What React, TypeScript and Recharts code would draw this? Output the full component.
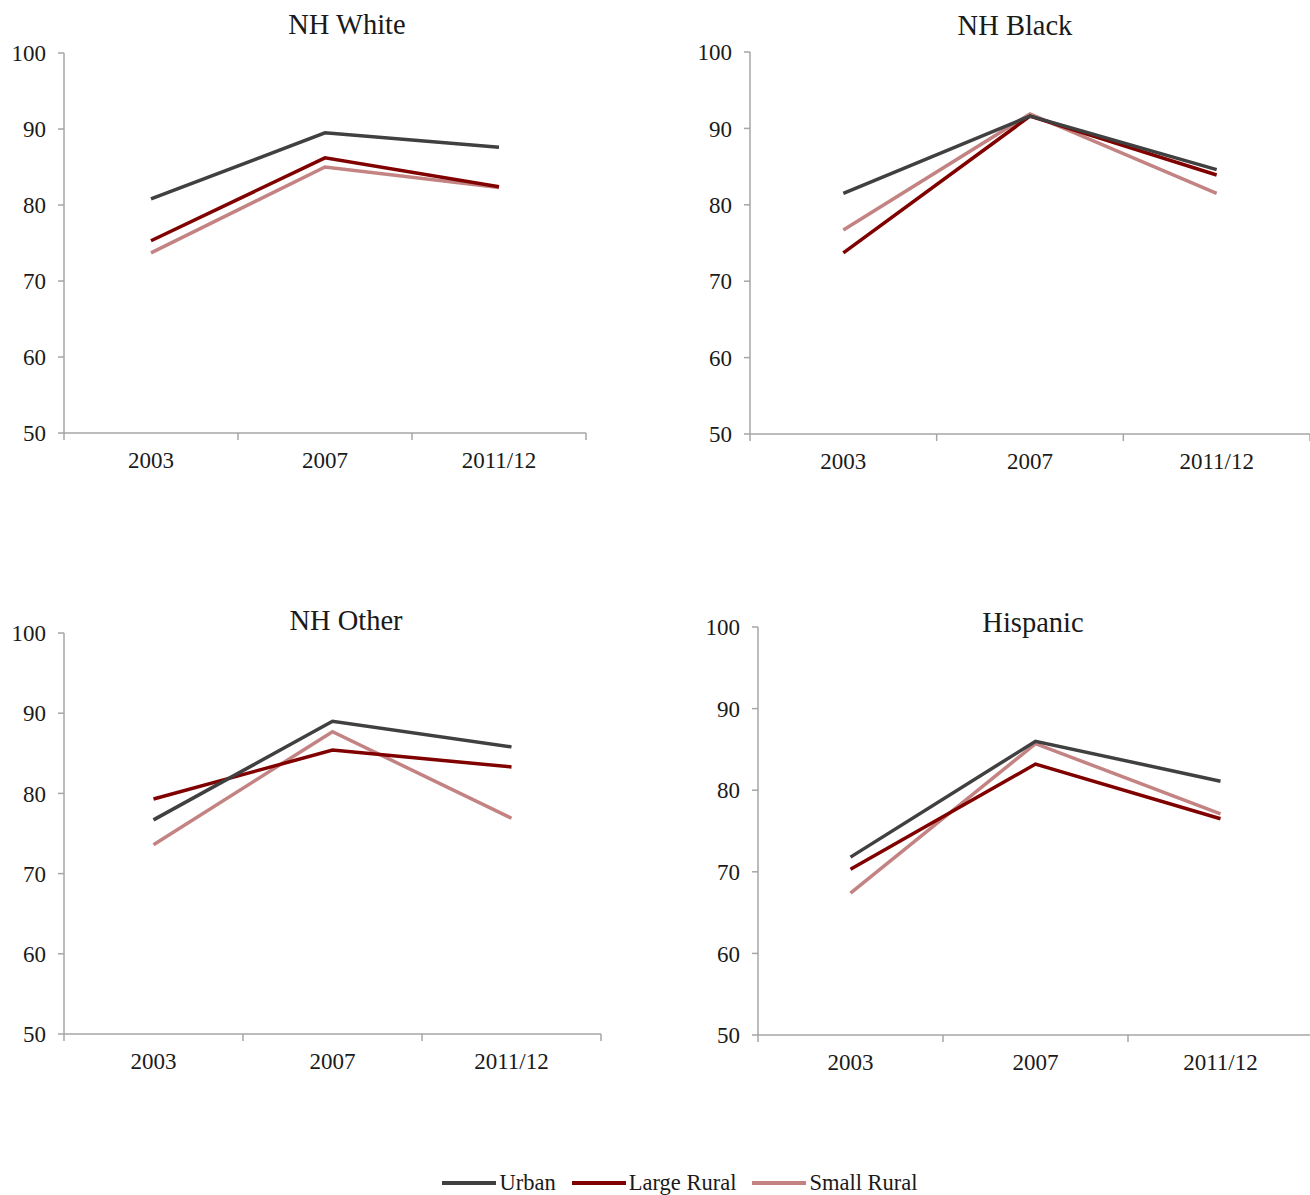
import React from "react";
import { LineChart, Line, XAxis, YAxis } from "recharts";

const categories = ["2003", "2007", "2011/12"];
const yTicks = [50, 60, 70, 80, 90, 100];

const whiteUrban = [80.8, 89.5, 87.6];
const whiteLarge = [75.3, 86.2, 82.4];
const whiteSmall = [73.7, 85.0, 82.3];

const blackUrban = [81.5, 91.6, 84.6];
const blackLarge = [73.7, 91.6, 83.9];
const blackSmall = [76.7, 91.9, 81.5];

const otherUrban = [76.7, 89.0, 85.8];
const otherLarge = [79.3, 85.4, 83.3];
const otherSmall = [73.6, 87.7, 76.9];

const hispUrban = [71.8, 86.0, 81.1];
const hispLarge = [70.3, 83.2, 76.5];
const hispSmall = [67.4, 85.7, 77.1];

const FONT = "'Liberation Serif', 'DejaVu Serif', serif";
const AXIS = "#a6a6a6";
const TEXT = "#1a1a1a";
const C_URBAN = "#404040";
const C_LARGE = "#800000";
const C_SMALL = "#c48383";

const build = (u: number[], l: number[], s: number[]) =>
  categories.map((c, i) => ({ x: i + 0.5, label: c, urban: u[i], large: l[i], small: s[i] }));

const XTick = ({ x, y, payload }: any) => {
  const v = payload.value;
  if (Number.isInteger(v)) {
    return <line x1={x} x2={x} y1={y} y2={y + 7} stroke={AXIS} strokeWidth={1.5} />;
  }
  return (
    <text x={x} y={y + 35} textAnchor="middle" fill={TEXT} fontSize={23} fontFamily={FONT}>
      {categories[Math.floor(v)]}
    </text>
  );
};

interface PanelProps {
  title: string;
  x0: number; x1: number; y0: number; y1: number;
  titleX: number; titleY: number;
  urban: number[]; large: number[]; small: number[];
}

function Panel({ title, x0, x1, y0, y1, titleX, titleY, urban, large, small }: PanelProps) {
  const data = build(urban, large, small);
  const yw = 64;
  const w = x1 - x0 + yw + 6;
  const h = y1 - y0 + 20 + 50;
  return (
    <>
      <div style={{
        position: "absolute", left: titleX - 150, top: titleY - 17, width: 300,
        textAlign: "center", fontFamily: FONT, fontSize: 28.5, color: TEXT, lineHeight: "34px",
      }}>
        {title}
      </div>
      <div style={{ position: "absolute", left: x0 - yw, top: y0 - 20 }}>
        <LineChart width={w} height={h} data={data} margin={{ top: 20, right: 6, bottom: 0, left: 0 }}>
          <XAxis
            dataKey="x" type="number" domain={[0, 3]} ticks={[0, 0.5, 1, 1.5, 2, 2.5, 3]}
            height={50} tickSize={0} tickMargin={0} tickLine={false}
            axisLine={{ stroke: AXIS, strokeWidth: 1.5 }} tick={<XTick />} interval={0}
          />
          <YAxis
            type="number" domain={[50, 100]} ticks={yTicks} width={yw} interval={0}
            tickSize={6} tickMargin={12}
            axisLine={{ stroke: AXIS, strokeWidth: 1.5 }} tickLine={{ stroke: AXIS, strokeWidth: 1.5 }}
            tick={{ fill: TEXT, fontSize: 23, fontFamily: FONT }}
          />
          <Line dataKey="small" stroke={C_SMALL} strokeWidth={3.5} dot={false} isAnimationActive={false} />
          <Line dataKey="large" stroke={C_LARGE} strokeWidth={3.5} dot={false} isAnimationActive={false} />
          <Line dataKey="urban" stroke={C_URBAN} strokeWidth={3.5} dot={false} isAnimationActive={false} />
        </LineChart>
      </div>
    </>
  );
}

const legendItems = [
  { name: "Urban", color: C_URBAN },
  { name: "Large Rural", color: C_LARGE },
  { name: "Small Rural", color: C_SMALL },
];

export default function App() {
  return (
    <div style={{ position: "absolute", left: 0, top: 0, width: 1310, height: 1195, overflow: "hidden", background: "#fff" }}>
      <Panel title="NH White" x0={64} x1={586} y0={53} y1={433} titleX={347} titleY={25}
        urban={whiteUrban} large={whiteLarge} small={whiteSmall} />
      <Panel title="NH Black" x0={750} x1={1310} y0={52} y1={434} titleX={1015} titleY={26}
        urban={blackUrban} large={blackLarge} small={blackSmall} />
      <Panel title="NH Other" x0={64} x1={601} y0={633} y1={1034} titleX={346} titleY={621}
        urban={otherUrban} large={otherLarge} small={otherSmall} />
      <Panel title="Hispanic" x0={758} x1={1313} y0={627} y1={1035} titleX={1033} titleY={623}
        urban={hispUrban} large={hispLarge} small={hispSmall} />
      <div style={{
        position: "absolute", left: 0, width: 1376, top: 1169, display: "flex",
        justifyContent: "center", fontFamily: FONT, fontSize: 22.5, color: TEXT, lineHeight: "28px",
      }}>
        {legendItems.map((it) => (
          <div key={it.name} style={{ display: "flex", alignItems: "center", marginRight: 16 }}>
            <span style={{ display: "inline-block", width: 54, height: 4, background: it.color, marginRight: 3 }} />
            <span>{it.name}</span>
          </div>
        ))}
      </div>
    </div>
  );
}
